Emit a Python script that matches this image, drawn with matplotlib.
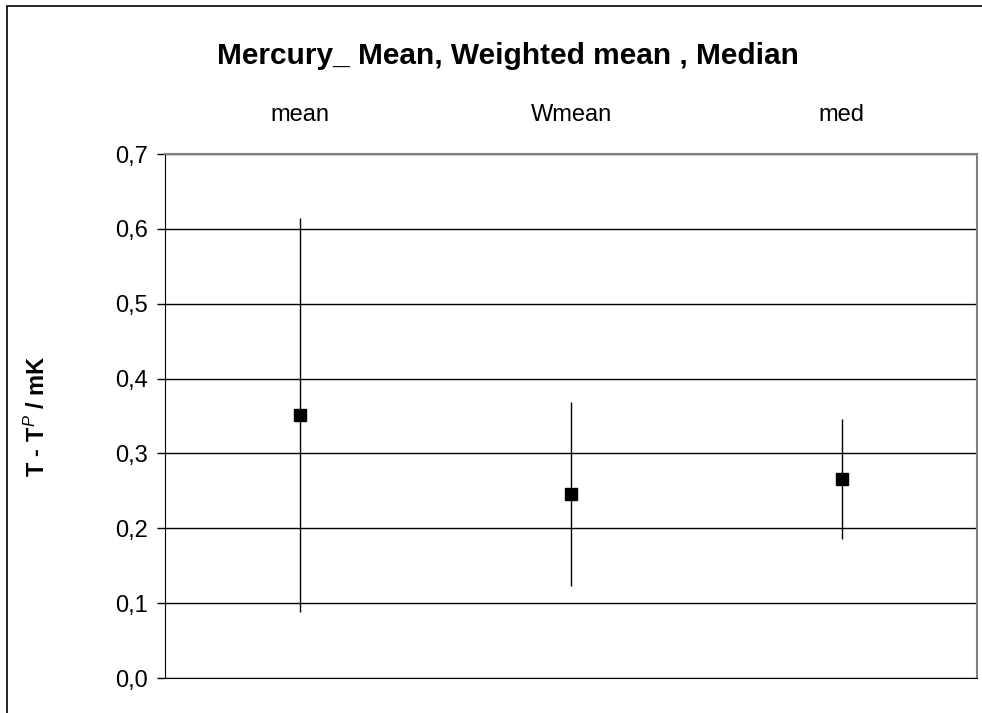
import matplotlib
matplotlib.use("Agg")
import matplotlib.pyplot as plt
import matplotlib.transforms as mtransforms
from matplotlib.patches import Rectangle

plt.rcParams["font.family"] = ["Liberation Sans", "DejaVu Sans"]
plt.rcParams["mathtext.fontset"] = "custom"
plt.rcParams["mathtext.rm"] = "Liberation Sans"
plt.rcParams["mathtext.it"] = "Liberation Sans:italic"
plt.rcParams["mathtext.bf"] = "Liberation Sans:bold"

# values
categories = ["mean", "Wmean", "med"]
values = [0.351, 0.246, 0.266]
errors = [0.263, 0.123, 0.080]
y_ticks = [0.0, 0.1, 0.2, 0.3, 0.4, 0.5, 0.6, 0.7]
y_tick_labels = ["0,0", "0,1", "0,2", "0,3", "0,4", "0,5", "0,6", "0,7"]

fig = plt.figure(figsize=(9.82, 7.13), dpi=100)
ax = fig.add_axes([0.168, 0.049, 0.827, 0.735])

x = range(len(categories))
# vertical error bars without caps, then the square markers on top
ax.errorbar(x, values, yerr=errors, fmt="none", ecolor="black", elinewidth=1, capsize=0, zorder=3)
ax.plot(x, values, linestyle="none", marker="s", markersize=8, color="black", zorder=4)

ax.set_xlim(-0.5, 2.5)
ax.set_ylim(0, 0.7)
ax.set_yticks(y_ticks)
ax.set_yticklabels(y_tick_labels, fontsize=17)
ax.set_xticks([])
ax.tick_params(axis="y", direction="out", length=5.5, width=1, pad=7)
ax.yaxis.grid(True, color="black", linewidth=1)
ax.set_axisbelow(True)

for side in ["left", "bottom"]:
    ax.spines[side].set_color("black")
for side in ["top", "right"]:
    ax.spines[side].set_color("#808080")
    ax.spines[side].set_linewidth(1.5)

# category names sit above the plot area
trans = mtransforms.blended_transform_factory(ax.transData, ax.transAxes)
for i, name in enumerate(categories):
    ax.text(i, 1.075, name, transform=trans, ha="center", va="center", fontsize=17)

ax.set_ylabel(r"T - T$^{\mathit{P}}$ / mK", fontsize=17, fontweight="bold")
ax.yaxis.set_label_coords(-0.142, 0.5)

fig.text(0.517, 0.921, "Mercury_ Mean, Weighted mean , Median", ha="center", va="center",
         fontsize=21.5, fontweight="bold")

# outer chart frame (right and bottom edges fall outside the image)
fig.patches.append(Rectangle((7 / 982, -0.1), 1.2, 1 - 6 / 713 + 0.1, transform=fig.transFigure,
                             fill=False, edgecolor="black", linewidth=1.2))

fig.savefig("out.png", dpi=100)
